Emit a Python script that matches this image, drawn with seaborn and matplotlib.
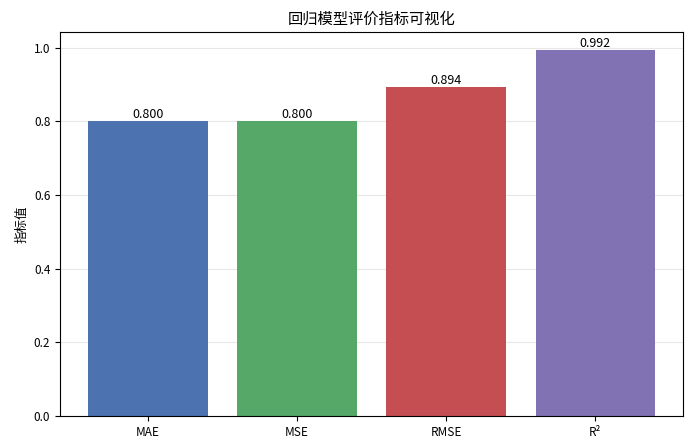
import matplotlib
matplotlib.use("Agg")
import matplotlib.pyplot as plt
import seaborn as sns
import pandas as pd

# Data
metrics = ["MAE", "MSE", "RMSE", "R²"]
values = [0.800, 0.800, 0.894, 0.992]
colors = ["#4C72B0", "#55A868", "#C44E52", "#8172B3"]

plt.rcParams['font.family'] = ['Noto Sans CJK SC', 'DejaVu Sans']
plt.rcParams['axes.unicode_minus'] = False

df = pd.DataFrame({"metric": metrics, "value": values})

fig = plt.figure(figsize=(6.9, 4.47), dpi=100)
ax = fig.add_axes([0.087, 0.069, 0.903, 0.859])
sns.barplot(data=df, x="metric", y="value", hue="metric", palette=colors,
            legend=False, width=0.8, saturation=1, ax=ax)

# matplotlib-style x margins instead of seaborn's
ax.set_xlim(-0.59, len(metrics) - 1 + 0.59)

for i, v in enumerate(values):
    ax.text(i, v, f"{v:.3f}", ha="center", va="bottom", fontsize=9)

ax.set_title("回归模型评价指标可视化", fontsize=11)
ax.set_xlabel("")
ax.set_ylabel("指标值", fontsize=9)
ax.tick_params(labelsize=8.5)
ax.grid(axis="y", alpha=0.3)
ax.set_axisbelow(True)

fig.savefig("out.png", dpi=100)
